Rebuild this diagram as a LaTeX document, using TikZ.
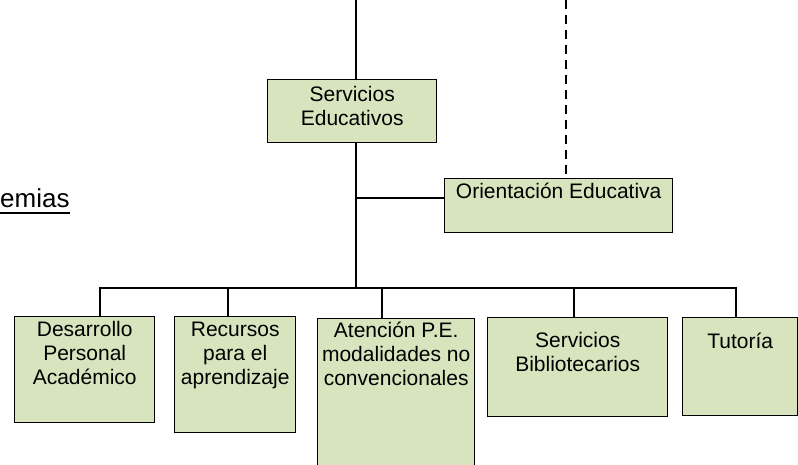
\documentclass[tikz,border=0pt]{standalone}
\usepackage{fontspec}
\setmainfont{Liberation Sans}
\usetikzlibrary{positioning}

\definecolor{boxgreen}{HTML}{D7E4BD}
\newcommand{\ulword}[1]{\setbox0\hbox{#1}\rlap{\rule[-6.8pt]{\wd0}{1.6pt}}\box0}

\tikzset{
  unit/.style={draw=black, line width=1.4pt, fill=boxgreen, inner sep=0pt, anchor=north west},
  txt/.style={inner sep=0pt, align=center, font=\fontsize{21}{24}\selectfont},
  wire/.style={line width=1.5pt, black}
}

\begin{document}
\begin{tikzpicture}[x=1pt, y=-1pt]
    \useasboundingbox (0,0) rectangle (798,464);
    \clip (0,0) rectangle (798,464);

    \node[anchor=base west, inner sep=0pt, font=\fontsize{26}{30}\selectfont] (acad) at (0,207) {\ulword{emias}};

    \node[unit, minimum width=169pt, minimum height=63pt]  (se)  at (267,79)  {};
    \node[unit, minimum width=228pt, minimum height=54pt]  (oe)  at (444,178) {};
    \node[unit, minimum width=140pt, minimum height=106pt] (dpa) at (14,316)  {};
    \node[unit, minimum width=121pt, minimum height=116pt] (rpa) at (174,316) {};
    \node[unit, minimum width=157pt, minimum height=152pt] (ape) at (317,318) {};
    \node[unit, minimum width=180pt, minimum height=99pt]  (sbi) at (487,317) {};
    \node[unit, minimum width=115pt, minimum height=98pt]  (tut) at (682,317) {};

    \node[txt, below=7pt of se.north]  (seT)  {Servicios\\Educativos};
    \node[txt, below=4.5pt of oe.north]  (oeT)  {Orientación Educativa};
    \node[txt, below=5.5pt of dpa.north] (dpaT) {Desarrollo\\Personal\\Académico};
    \node[txt, below=5.5pt of rpa.north] (rpaT) {Recursos\\para el\\aprendizaje};
    \node[txt, below=3.5pt of ape.north] (apeT) {Atención P.E.\\modalidades no\\convencionales};
    \node[txt, below=15.5pt of sbi.north] (sbiT) {Servicios\\Bibliotecarios};
    \node[txt, below=15.5pt of tut.north] (tutT) {Tutoría};

    \coordinate (top)  at (356,0);
    \coordinate (dash) at (566,0);
    \coordinate (fork) at (356,198);
    \coordinate (bus)  at (356,288);
    \coordinate (b1) at (100,288);
    \coordinate (b2) at (228,288);
    \coordinate (b3) at (382,288);
    \coordinate (b4) at (574,288);
    \coordinate (b5) at (736,288);

    \draw[wire] (top) -- (top |- se.north);
    \draw[wire] (se.south -| top) -- (bus);
    \draw[wire] (fork) -- (fork -| oe.west);
    \draw[wire, line width=1.3pt, dash pattern=on 8.5pt off 6.5pt] (dash) -- (dash |- oe.north);
    \draw[wire] (b1 |- dpa.north) -- (b1) -- (b5) -- (b5 |- tut.north);
    \foreach \b/\n in {b2/rpa, b3/ape, b4/sbi}
        \draw[wire] (\b) -- (\b |- \n.north);
\end{tikzpicture}
\end{document}
